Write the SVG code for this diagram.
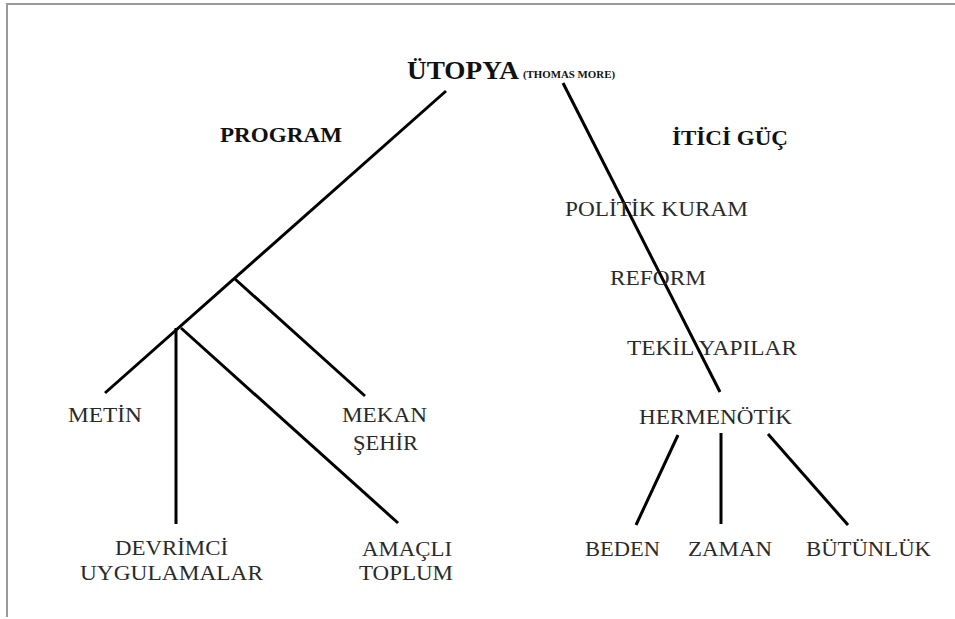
<svg xmlns="http://www.w3.org/2000/svg" width="955" height="619" viewBox="0 0 955 619">
<style>
text{font-family:'Liberation Serif','Times New Roman','DejaVu Serif',serif}
.t{font-size:22px;fill:#2a2a2a}
.b{font-weight:bold;fill:#111}
.c{stroke:#000;stroke-width:3;fill:none;stroke-linecap:butt}
.f{stroke:#999;stroke-width:2;fill:none}
</style>
<rect width="955" height="619" fill="#fff"/>
<g id="frame"><path class="f" d="M7 617V4H955"/></g>
<g id="connectors">
<line class="c" x1="446" y1="91" x2="105" y2="393"/>
<line class="c" x1="235" y1="279" x2="365" y2="396"/>
<line class="c" x1="176" y1="328" x2="176" y2="524"/>
<line class="c" x1="181" y1="328" x2="398" y2="523"/>
<line class="c" x1="563" y1="83" x2="720" y2="392"/>
<line class="c" x1="678" y1="435" x2="636" y2="525"/>
<line class="c" x1="721" y1="433" x2="721" y2="524"/>
<line class="c" x1="768" y1="434" x2="848" y2="525"/>
</g>
<g id="utopya"><text class="b" x="407" y="79" font-size="26" textLength="112" lengthAdjust="spacingAndGlyphs">ÜTOPYA</text><text class="b" x="523" y="78" font-size="10.5" textLength="92" lengthAdjust="spacingAndGlyphs">(THOMAS MORE)</text></g>
<g id="program"><text class="b" x="220" y="142" font-size="22" textLength="122" lengthAdjust="spacingAndGlyphs">PROGRAM</text></g>
<g id="itici"><text class="b" x="672" y="145" font-size="22" textLength="116" lengthAdjust="spacingAndGlyphs">İTİCİ GÜÇ</text></g>
<g id="politik"><text class="t" x="565" y="216" textLength="183" lengthAdjust="spacingAndGlyphs">POLİTİK KURAM</text></g>
<g id="reform"><text class="t" x="610" y="285" textLength="96" lengthAdjust="spacingAndGlyphs">REFORM</text></g>
<g id="tekil"><text class="t" x="627" y="355" textLength="170" lengthAdjust="spacingAndGlyphs">TEKİL YAPILAR</text></g>
<g id="hermenotik"><text class="t" x="639" y="424" textLength="153" lengthAdjust="spacingAndGlyphs">HERMENÖTİK</text></g>
<g id="beden"><text class="t" x="585" y="556" textLength="75" lengthAdjust="spacingAndGlyphs">BEDEN</text></g>
<g id="zaman"><text class="t" x="688" y="556" textLength="84" lengthAdjust="spacingAndGlyphs">ZAMAN</text></g>
<g id="butunluk"><text class="t" x="806" y="556" textLength="125" lengthAdjust="spacingAndGlyphs">BÜTÜNLÜK</text></g>
<g id="metin"><text class="t" x="68" y="422" textLength="74" lengthAdjust="spacingAndGlyphs">METİN</text></g>
<g id="mekan"><text class="t" x="342" y="422" textLength="85" lengthAdjust="spacingAndGlyphs">MEKAN</text><text class="t" x="353" y="450" textLength="65" lengthAdjust="spacingAndGlyphs">ŞEHİR</text></g>
<g id="devrimci"><text class="t" x="115" y="555" textLength="113" lengthAdjust="spacingAndGlyphs">DEVRİMCİ</text><text class="t" x="80" y="580" textLength="183" lengthAdjust="spacingAndGlyphs">UYGULAMALAR</text></g>
<g id="amacli"><text class="t" x="362" y="556" textLength="90" lengthAdjust="spacingAndGlyphs">AMAÇLI</text><text class="t" x="359" y="580" textLength="94" lengthAdjust="spacingAndGlyphs">TOPLUM</text></g>
</svg>
